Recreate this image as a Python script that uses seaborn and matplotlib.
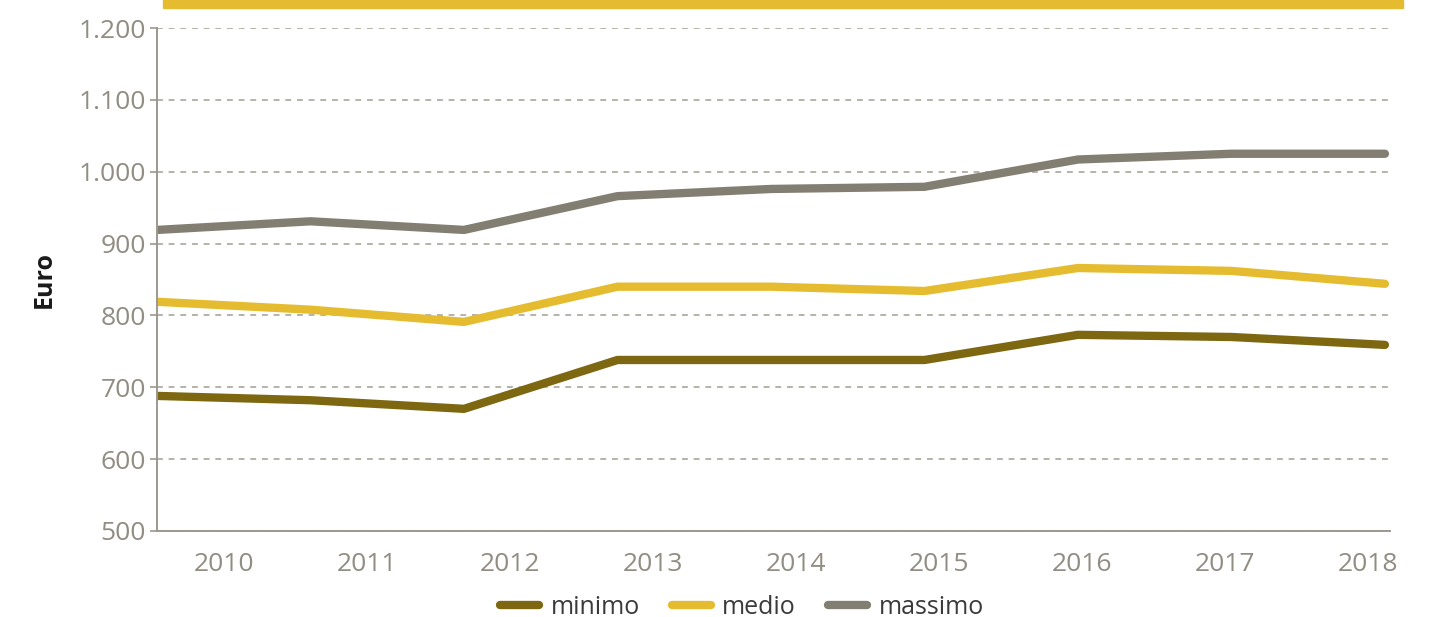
import numpy as np
import pandas as pd
import matplotlib
matplotlib.use("Agg")
import matplotlib.pyplot as plt
from matplotlib.ticker import FuncFormatter, FixedLocator
from matplotlib.patches import Rectangle
from matplotlib.lines import Line2D
import seaborn as sns

years = ["2010", "2011", "2012", "2013", "2014", "2015", "2016", "2017", "2018"]
minimo = [688, 682, 670, 738, 738, 738, 773, 770, 759]
medio = [819, 808, 791, 840, 840, 834, 866, 862, 844]
massimo = [919, 931, 919, 966, 976, 979, 1017, 1025, 1025]
series_names = ["minimo", "medio", "massimo"]
colors = ["#7d6711", "#e5bc2f", "#827e71"]

df = pd.DataFrame({
    "x": list(range(len(years))) * 3,
    "value": minimo + medio + massimo,
    "serie": [s for s in series_names for _ in years],
})

sns.set_theme(style="white")
plt.rcParams["font.family"] = ["Open Sans", "DejaVu Sans"]

TEXT = "#918d82"
fig = plt.figure(figsize=(14.32, 6.17), dpi=100)
ax = fig.add_axes([157/1432, 1-531/617, (1390-157)/1432, (531-28)/617])

sns.lineplot(data=df, x="x", y="value", hue="serie", palette=dict(zip(series_names, colors)),
             linewidth=6, ax=ax, legend=False, sort=False)
for ln in ax.get_lines():
    ln.set_solid_capstyle("round")
    ln.set_solid_joinstyle("round")

ax.set_xlim(0, 8.033)
ax.set_ylim(500, 1200)
ax.yaxis.set_major_locator(FixedLocator(np.arange(500, 1201, 100)))
ax.yaxis.set_major_formatter(FuncFormatter(lambda v, p: f"{int(v):,}".replace(",", ".")))
ax.grid(axis="y", color="#a9a59c", linestyle=(0, (3.5, 3.5)), linewidth=1.2)
ax.set_axisbelow(True)

label_offset, label_step = 0.436, 0.9316
ax.set_xticks([label_offset + i * label_step for i in range(len(years))])
ax.set_xticklabels(years)
ax.tick_params(axis="x", length=0, pad=15, labelsize=19, labelcolor=TEXT)
ax.tick_params(axis="y", length=5, width=1.2, color="#9c988e", pad=3, labelsize=19, labelcolor=TEXT, left=True)

for s in ["top", "right"]:
    ax.spines[s].set_visible(False)
for s in ["left", "bottom"]:
    ax.spines[s].set_color("#9c988e")
    ax.spines[s].set_linewidth(1.4)

ax.set_xlabel("")
ax.set_ylabel("Euro", fontsize=18, fontweight="bold", color="#1a1a1a")
ax.yaxis.set_label_coords(-0.081, 0.50)

fig.patches.append(Rectangle((163/1432, 1-8/617), (1403-163)/1432, 8/617,
                             transform=fig.transFigure, color="#e5bc2f", zorder=0))

handles = [Line2D([0], [0], color=c, linewidth=6, solid_capstyle="round") for c in colors]
fig.legend(handles, series_names, loc="center", bbox_to_anchor=(742/1432, 1-607/617), ncol=3,
           frameon=False, fontsize=18, handlelength=1.55, handletextpad=0.45, columnspacing=1.3,
           labelcolor="#3a3a3a")

fig.savefig("out.png", dpi=100)
